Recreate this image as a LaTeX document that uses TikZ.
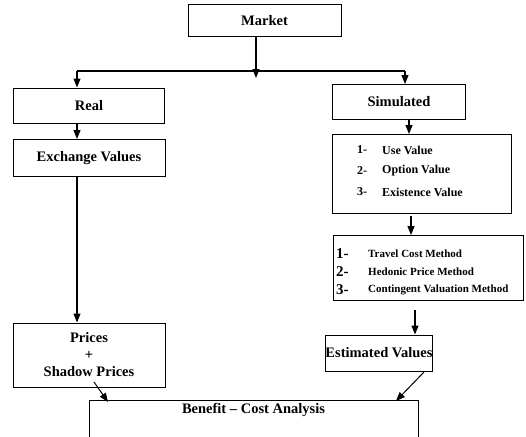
\documentclass[tikz,border=0pt]{standalone}
\usepackage{fontspec}
\setmainfont{Liberation Serif}
\usetikzlibrary{arrows.meta}
\tikzset{
  box/.style={draw, line width=1pt, inner sep=0pt, font=\fontsize{14.5}{17}\selectfont\bfseries, align=center},
  conn/.style={line width=1.2pt, -{Triangle[length=9pt,width=7pt]}},
  plain/.style={line width=1.2pt},
  item/.style={anchor=west, inner sep=0pt, font=\fontsize{12}{14}\selectfont\bfseries},
  mitem/.style={anchor=west, inner sep=0pt, font=\fontsize{11}{13}\selectfont\bfseries},
  mnum/.style={anchor=west, inner sep=0pt, font=\fontsize{15}{17}\selectfont\bfseries},
}
\begin{document}
\begin{tikzpicture}[x=1pt,y=-1pt]
\useasboundingbox (0,0) rectangle (526,436);
\clip (0,0) rectangle (526,436);
% boxes
\node[box, minimum width=153pt, minimum height=32pt] (market) at (264.5,21) {Market};
\node[box, minimum width=151pt, minimum height=35pt] (real) at (89,105.5) {Real};
\node[box, minimum width=152pt, minimum height=37pt] (exch) at (89,158) {Exchange Values};
\node[box, minimum width=152pt, minimum height=64pt] (prices) at (89,355) {Prices\\+\\Shadow Prices};
\node[box, minimum width=133pt, minimum height=35pt] (sim) at (399,102) {Simulated};
\node[box, minimum width=179pt, minimum height=79pt] (use) at (422,174) {};
\node[box, minimum width=190pt, minimum height=65pt] (methods) at (428,268) {};
\node[box, minimum width=96pt, minimum height=36pt] (est) at (379,353) {Estimated Values};
\node[box, minimum width=329pt, minimum height=44pt] (benefit) at (253.5,422) {};
\node[box, draw=none] (benefitlabel) at (253.5,410) {Benefit -- Cost Analysis};
% use value list
\node[item] (u1n) at (357,150) {1-};
\node[item] (u1) at (382,150) {Use Value};
\node[item] (u2n) at (357,171) {2-};
\node[item] (u2) at (382,171) {Option Value};
\node[item] (u3n) at (357,192) {3-};
\node[item] (u3) at (382,192) {Existence Value};
% methods list
\node[mnum] (m1n) at (336,254) {1-};
\node[mitem] (m1) at (368,254) {Travel Cost Method};
\node[mnum] (m2n) at (336,272) {2-};
\node[mitem] (m2) at (368,272) {Hedonic Price Method};
\node[mnum] (m3n) at (336,290) {3-};
\node[mitem] (m3) at (368,290) {Contingent Valuation Method};
% connectors
\coordinate (split) at (256,78);
\coordinate (hl) at (77,71);
\coordinate (hr) at (405,71);
\draw[conn] (market.south -| split) -- (split);
\draw[plain] (hl) -- (hr);
\draw[conn] (hl) -- (hl |- real.north);
\draw[conn] (hr) -- (hr |- sim.north);
\draw[conn] (real.south -| hl) -- (exch.north -| hl);
\draw[conn] (exch.south -| hl) -- (prices.north -| hl);
\coordinate (sx) at (409,0);
\draw[conn] (sim.south -| sx) -- (use.north -| sx);
\coordinate (ux) at (411,216);
\draw[conn] (ux) -- (methods.north -| ux);
\coordinate (mx) at (415,310);
\draw[conn] (mx) -- (est.north -| mx);
\coordinate (pa) at (94,382);
\coordinate (pb) at (108,402);
\draw[conn, line width=1pt] (pa) -- (pb);
\coordinate (ea) at (424,372);
\coordinate (eb) at (396,401);
\draw[conn, line width=1pt] (ea) -- (eb);
\end{tikzpicture}
\end{document}
